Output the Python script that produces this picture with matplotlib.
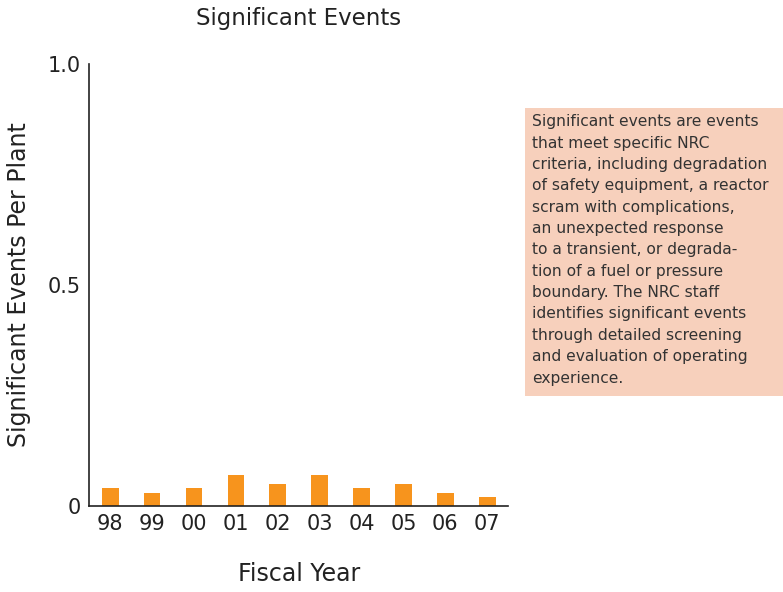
import matplotlib.pyplot as plt
from matplotlib.patches import Rectangle

years = ["98", "99", "00", "01", "02", "03", "04", "05", "06", "07"]
events_per_plant = [0.04, 0.03, 0.04, 0.07, 0.05, 0.07, 0.04, 0.05, 0.03, 0.02]

note = ("Significant events are events\n"
        "that meet specific NRC\n"
        "criteria, including degradation\n"
        "of safety equipment, a reactor\n"
        "scram with complications,\n"
        "an unexpected response\n"
        "to a transient, or degrada-\n"
        "tion of a fuel or pressure\n"
        "boundary. The NRC staff\n"
        "identifies significant events\n"
        "through detailed screening\n"
        "and evaluation of operating\n"
        "experience.")

fig = plt.figure(figsize=(7.83, 5.92), dpi=100)
ax = fig.add_axes([0.114, 0.145, 0.535, 0.747])

x = range(len(years))
ax.bar(x, events_per_plant, width=0.4, color="#f7941d")

ax.set_xlim(-0.5, 9.5)
ax.set_ylim(0, 1.0)
ax.set_xticks(list(x))
ax.set_xticklabels(years)
ax.set_yticks([0, 0.5, 1.0])
ax.set_yticklabels(["0", "0.5", "1.0"])
ax.tick_params(length=0, labelsize=15, colors="#222222", pad=6)

for side in ["top", "right"]:
    ax.spines[side].set_visible(False)
for side in ["left", "bottom"]:
    ax.spines[side].set_color("#222222")
    ax.spines[side].set_linewidth(1.2)

ax.set_title("Significant Events", fontsize=16.5, color="#222222", pad=28)
ax.set_xlabel("Fiscal Year", fontsize=17, color="#222222", labelpad=20)
ax.set_ylabel("Significant Events Per Plant", fontsize=17, color="#222222", labelpad=12)

# side note box
fig.patches.append(Rectangle((0.6705, 0.331), 0.3295, 0.4865, transform=fig.transFigure,
                             facecolor="#f7d0bc", edgecolor="none", zorder=0))
fig.text(0.679, 0.807, note, fontsize=11.2, color="#333333", va="top", ha="left",
         linespacing=1.53)

plt.savefig("out.png", dpi=100)
